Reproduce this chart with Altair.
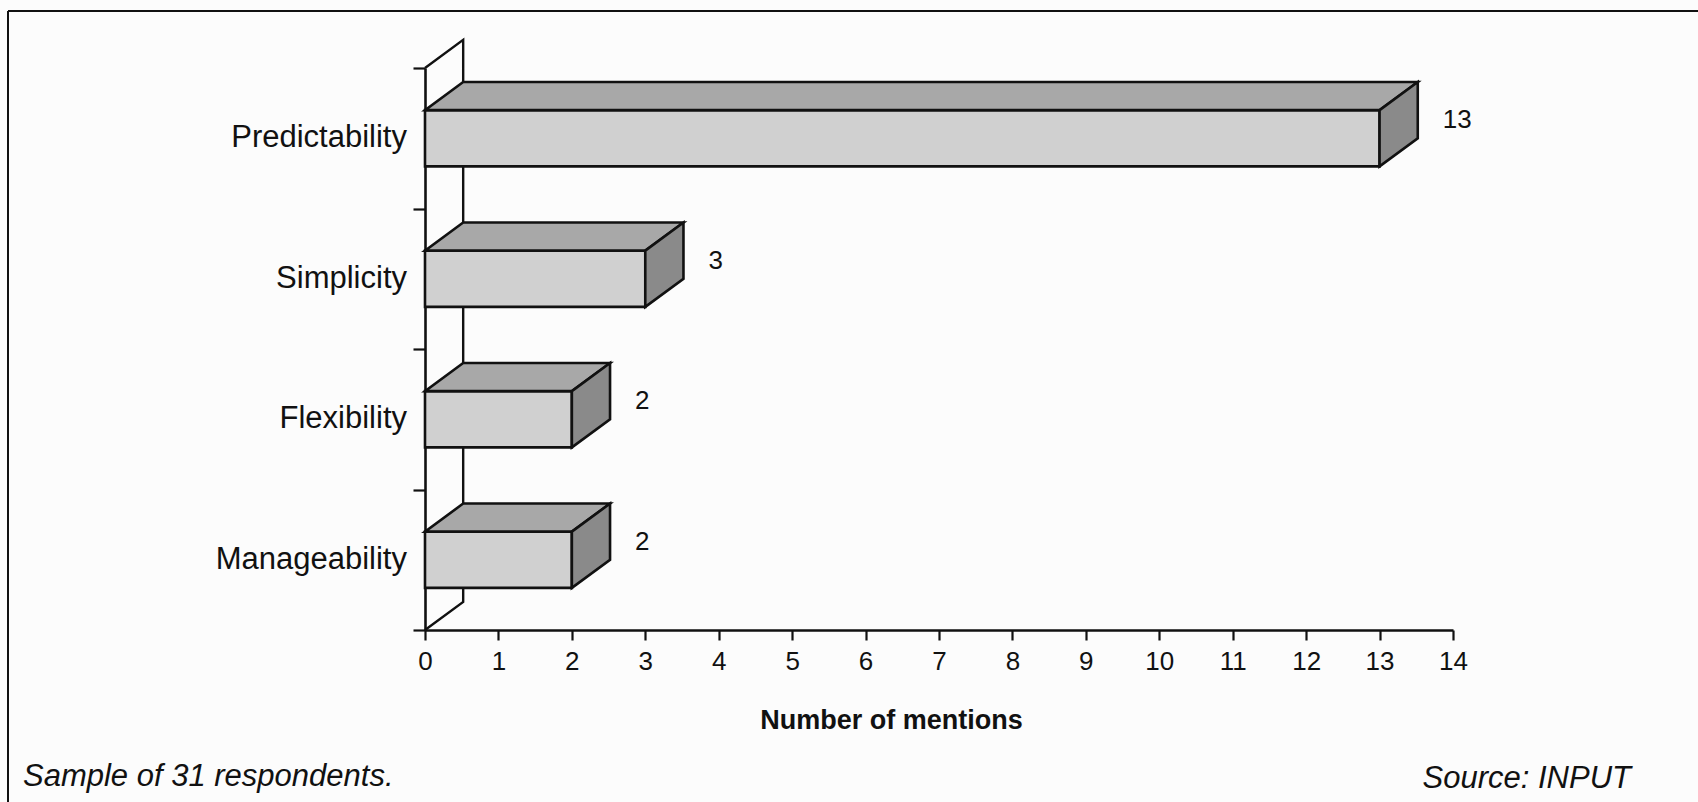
import altair as alt
import pandas as pd

# Survey answers: number of mentions per attribute
categories = ["Predictability", "Simplicity", "Flexibility", "Manageability"]
mentions = [13, 3, 2, 2]
x_ticks = list(range(0, 15))
footnote = "Sample of 31 respondents."
source = "Source: INPUT"

# 3-D bar geometry (value units along x, band units along y)
DEPTH_X = 0.52
DEPTH_Y = 0.2
HALF = 0.2

FONT = "Liberation Sans"
INK = "#111111"
FRONT_FILL = "#d0d0d0"
TOP_FILL = "#a8a8a8"
SIDE_FILL = "#8a8a8a"
EDGE = 2.6

n = len(categories)
pos = [n - 0.5 - i for i in range(n)]

front = pd.DataFrame({"cat": categories, "v": mentions, "p": pos})
front["x0"] = 0.0
front["ylo"] = front["p"] - HALF
front["yhi"] = front["p"] + HALF
front["vx"] = front["v"] + DEPTH_X

top_rows, side_rows = [], []
for c, v, p in zip(categories, mentions, pos):
    top_rows += [
        {"cat": c, "x": 0.0, "ylo": p + HALF, "yhi": p + HALF},
        {"cat": c, "x": DEPTH_X, "ylo": p + HALF, "yhi": p + HALF + DEPTH_Y},
        {"cat": c, "x": float(v), "ylo": p + HALF, "yhi": p + HALF + DEPTH_Y},
        {"cat": c, "x": v + DEPTH_X, "ylo": p + HALF + DEPTH_Y, "yhi": p + HALF + DEPTH_Y},
    ]
    side_rows += [
        {"cat": c, "x": float(v), "ylo": p - HALF, "yhi": p + HALF},
        {"cat": c, "x": v + DEPTH_X, "ylo": p - HALF + DEPTH_Y, "yhi": p + HALF + DEPTH_Y},
    ]
top = pd.DataFrame(top_rows)
side = pd.DataFrame(side_rows)

# back wall outline behind the bars
wall = pd.DataFrame({
    "x": [0.0, DEPTH_X, DEPTH_X, 0.0],
    "y": [0.0, DEPTH_Y, n + DEPTH_Y, float(n)],
    "o": [0, 1, 2, 3],
})

xs = alt.Scale(domain=[0, 14], nice=False, zero=False)
ys = alt.Scale(domain=[0, n], nice=False, zero=False)

xaxis = alt.Axis(
    values=x_ticks, grid=False, tickSize=10, tickWidth=2.2, tickColor=INK,
    domainColor=INK, domainWidth=2.6, labelFont=FONT, labelFontSize=26,
    labelColor=INK, labelPadding=21, labelBaseline="middle", labelFlush=False,
    labelOverlap=False, title="Number of mentions", titleFont=FONT,
    titleFontSize=27, titleFontWeight="bold", titleColor=INK,
    titleX=466, titleY=90, titleBaseline="middle", titleAlign="center",
)
yaxis = alt.Axis(
    values=list(range(0, n + 1)), grid=False, labels=False, tickSize=12,
    tickWidth=2.2, tickColor=INK, domainColor=INK, domainWidth=2.6, title=None,
)


def X(field):
    return alt.X(field, type="quantitative", scale=xs, axis=xaxis)


def Y(field):
    return alt.Y(field, type="quantitative", scale=ys, axis=yaxis)


wall_line = alt.Chart(wall).mark_line(
    color=INK, strokeWidth=2.4, strokeJoin="miter"
).encode(x=X("x"), y=Y("y"), order="o:Q")

front_face = alt.Chart(front).mark_rect(
    fill=FRONT_FILL, stroke=INK, strokeWidth=EDGE, strokeJoin="miter"
).encode(x=X("x0"), x2="v:Q", y=Y("ylo"), y2="yhi:Q")

top_face = alt.Chart(top).mark_area(
    fill=TOP_FILL, stroke=INK, strokeWidth=EDGE, strokeJoin="miter", opacity=1
).encode(x=X("x"), y=Y("ylo"), y2="yhi:Q", detail="cat:N")

side_face = alt.Chart(side).mark_area(
    fill=SIDE_FILL, stroke=INK, strokeWidth=EDGE, strokeJoin="miter", opacity=1
).encode(x=X("x"), y=Y("ylo"), y2="yhi:Q", detail="cat:N")

cat_labels = alt.Chart(front).mark_text(
    align="right", baseline="middle", dx=-18, font=FONT, fontSize=31, color=INK
).encode(x=X("x0"), y=Y("p"), text="cat:N")

value_labels = alt.Chart(front).mark_text(
    align="left", baseline="middle", dx=25, dy=-18, font=FONT, fontSize=26, color=INK
).encode(x=X("vx"), y=Y("p"), text="v:Q")

notes = pd.DataFrame({"t": [footnote]})
note_left = alt.Chart(notes).mark_text(
    align="left", baseline="middle", font=FONT, fontSize=31, fontStyle="italic", color=INK
).encode(x=alt.value(-402), y=alt.value(709), text="t:N")

src = pd.DataFrame({"t": [source]})
note_right = alt.Chart(src).mark_text(
    align="right", baseline="middle", font=FONT, fontSize=31, fontStyle="italic", color=INK
).encode(x=alt.value(1206), y=alt.value(711), text="t:N")

# page frame
frame_top = alt.Chart(notes).mark_rule(color=INK, strokeWidth=2).encode(
    x=alt.value(-417), x2=alt.value(1273), y=alt.value(-57)
)
frame_left = alt.Chart(notes).mark_rule(color=INK, strokeWidth=2).encode(
    x=alt.value(-417), y=alt.value(-57), y2=alt.value(734)
)

chart = alt.layer(
    frame_top, frame_left, wall_line, front_face, top_face, side_face,
    cat_labels, value_labels, note_left, note_right,
).properties(
    width=1028, height=562,
    autosize=alt.AutoSizeParams(type="none"),
    padding={"left": 425, "top": 68, "right": 245, "bottom": 172},
    background="#fcfcfc",
).configure_view(stroke=None)

chart.save("out.html", embed_options={"renderer": "svg", "actions": False})
